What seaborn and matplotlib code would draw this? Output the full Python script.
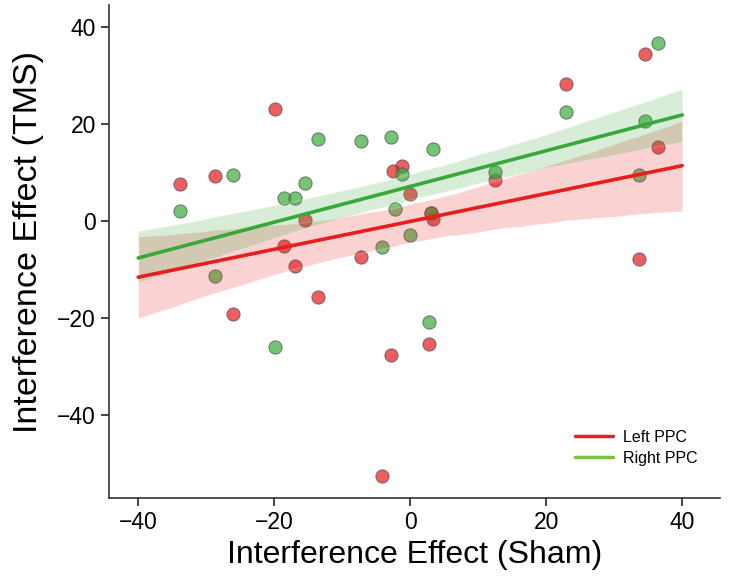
import numpy as np
import pandas as pd
import matplotlib
matplotlib.use("Agg")
import matplotlib.pyplot as plt
from matplotlib.lines import Line2D
import seaborn as sns

# interference effect per subject: sham (x) vs TMS (y)
sham_left = [-33.9, -28.7, -26.1, -19.9, -18.5, -16.9, -15.5, -13.6, -7.2, -4.2, -2.8,
             -2.5, -1.2, 0.0, 3.3, 3.0, 2.8, 12.5, 22.9, 33.6, 34.6, 36.5]
tms_left = [7.6, 9.3, -19.2, 23.1, -5.1, -9.3, 0.3, -15.6, -7.4, -52.5, -27.6,
            10.4, 11.3, 5.6, 0.4, 1.7, -25.4, 8.5, 28.2, -7.8, 34.4, 15.3]
sham_right = [-33.9, -28.7, -26.1, -19.9, -18.5, -16.9, -15.5, -13.6, -7.2, -4.2, -2.8,
              -2.2, -1.2, 0.0, 3.4, 3.0, 2.8, 12.5, 22.9, 33.6, 34.6, 36.5]
tms_right = [2.1, -11.3, 9.5, -26.0, 4.7, 4.7, 7.9, 17.0, 16.4, -5.3, 17.4,
             2.4, 9.8, -2.9, 14.9, 1.6, -20.9, 10.2, 22.4, 9.5, 20.7, 36.8]
groups = ["Left PPC", "Right PPC"]

df = pd.concat([
    pd.DataFrame({"sham": sham_left, "tms": tms_left, "site": groups[0]}),
    pd.DataFrame({"sham": sham_right, "tms": tms_right, "site": groups[1]}),
], ignore_index=True)

sns.set_style("ticks")
plt.rcParams["font.family"] = ["Liberation Sans", "DejaVu Sans"]
plt.rcParams["text.color"] = "black"
plt.rcParams["axes.labelcolor"] = "black"

point_col = {"Left PPC": "#e41a1c", "Right PPC": "#3aaa3a"}
line_col = {"Left PPC": "#e61e1e", "Right PPC": "#38a838"}
legend_col = {"Left PPC": "#e8202a", "Right PPC": "#7dc142"}

fig = plt.figure(figsize=(7.29, 5.76), dpi=100)
ax = fig.add_axes([0.1495, 0.1354, 0.8385, 0.8556])

# dots first, the fits and their bands are drawn on top
for site in groups:
    sub = df[df.site == site]
    sns.scatterplot(data=sub, x="sham", y="tms", color=point_col[site], alpha=0.7,
                    s=90, edgecolor="#555555", linewidth=0.8, ax=ax, legend=False)

ax.set_xlim(-40, 40)
for site in groups:
    sub = df[df.site == site]
    sns.regplot(data=sub, x="sham", y="tms", scatter=False, truncate=False, ax=ax,
                color=line_col[site], ci=68, seed=3, line_kws={"lw": 2.6})
for coll in ax.collections[2:]:
    coll.set_alpha(0.2)

ax.set_xlim(-44.3, 45.6)
ax.set_ylim(-57.1, 44.5)
ax.set_xticks([-40, -20, 0, 20, 40])
ax.set_yticks([-40, -20, 0, 20, 40])
ax.tick_params(labelsize=16.5, length=6, width=1.2, colors="#222222", labelcolor="black")
for sp in ["left", "bottom"]:
    ax.spines[sp].set_linewidth(1.2)
    ax.spines[sp].set_color("#333333")
sns.despine(ax=ax)

ax.set_xlabel("Interference Effect (Sham)", fontsize=23, labelpad=4)
ax.set_ylabel("Interference Effect (TMS)", fontsize=24.5)
ax.yaxis.set_label_coords(-0.106, 0.52)

handles = [Line2D([0], [0], color=legend_col[g], lw=2.5) for g in groups]
ax.legend(handles, groups, loc="lower right", bbox_to_anchor=(0.986, 0.036), frameon=False,
          fontsize=11.5, handlelength=2.4, handletextpad=0.6, labelspacing=0.4)

fig.savefig("out.png", dpi=100)
